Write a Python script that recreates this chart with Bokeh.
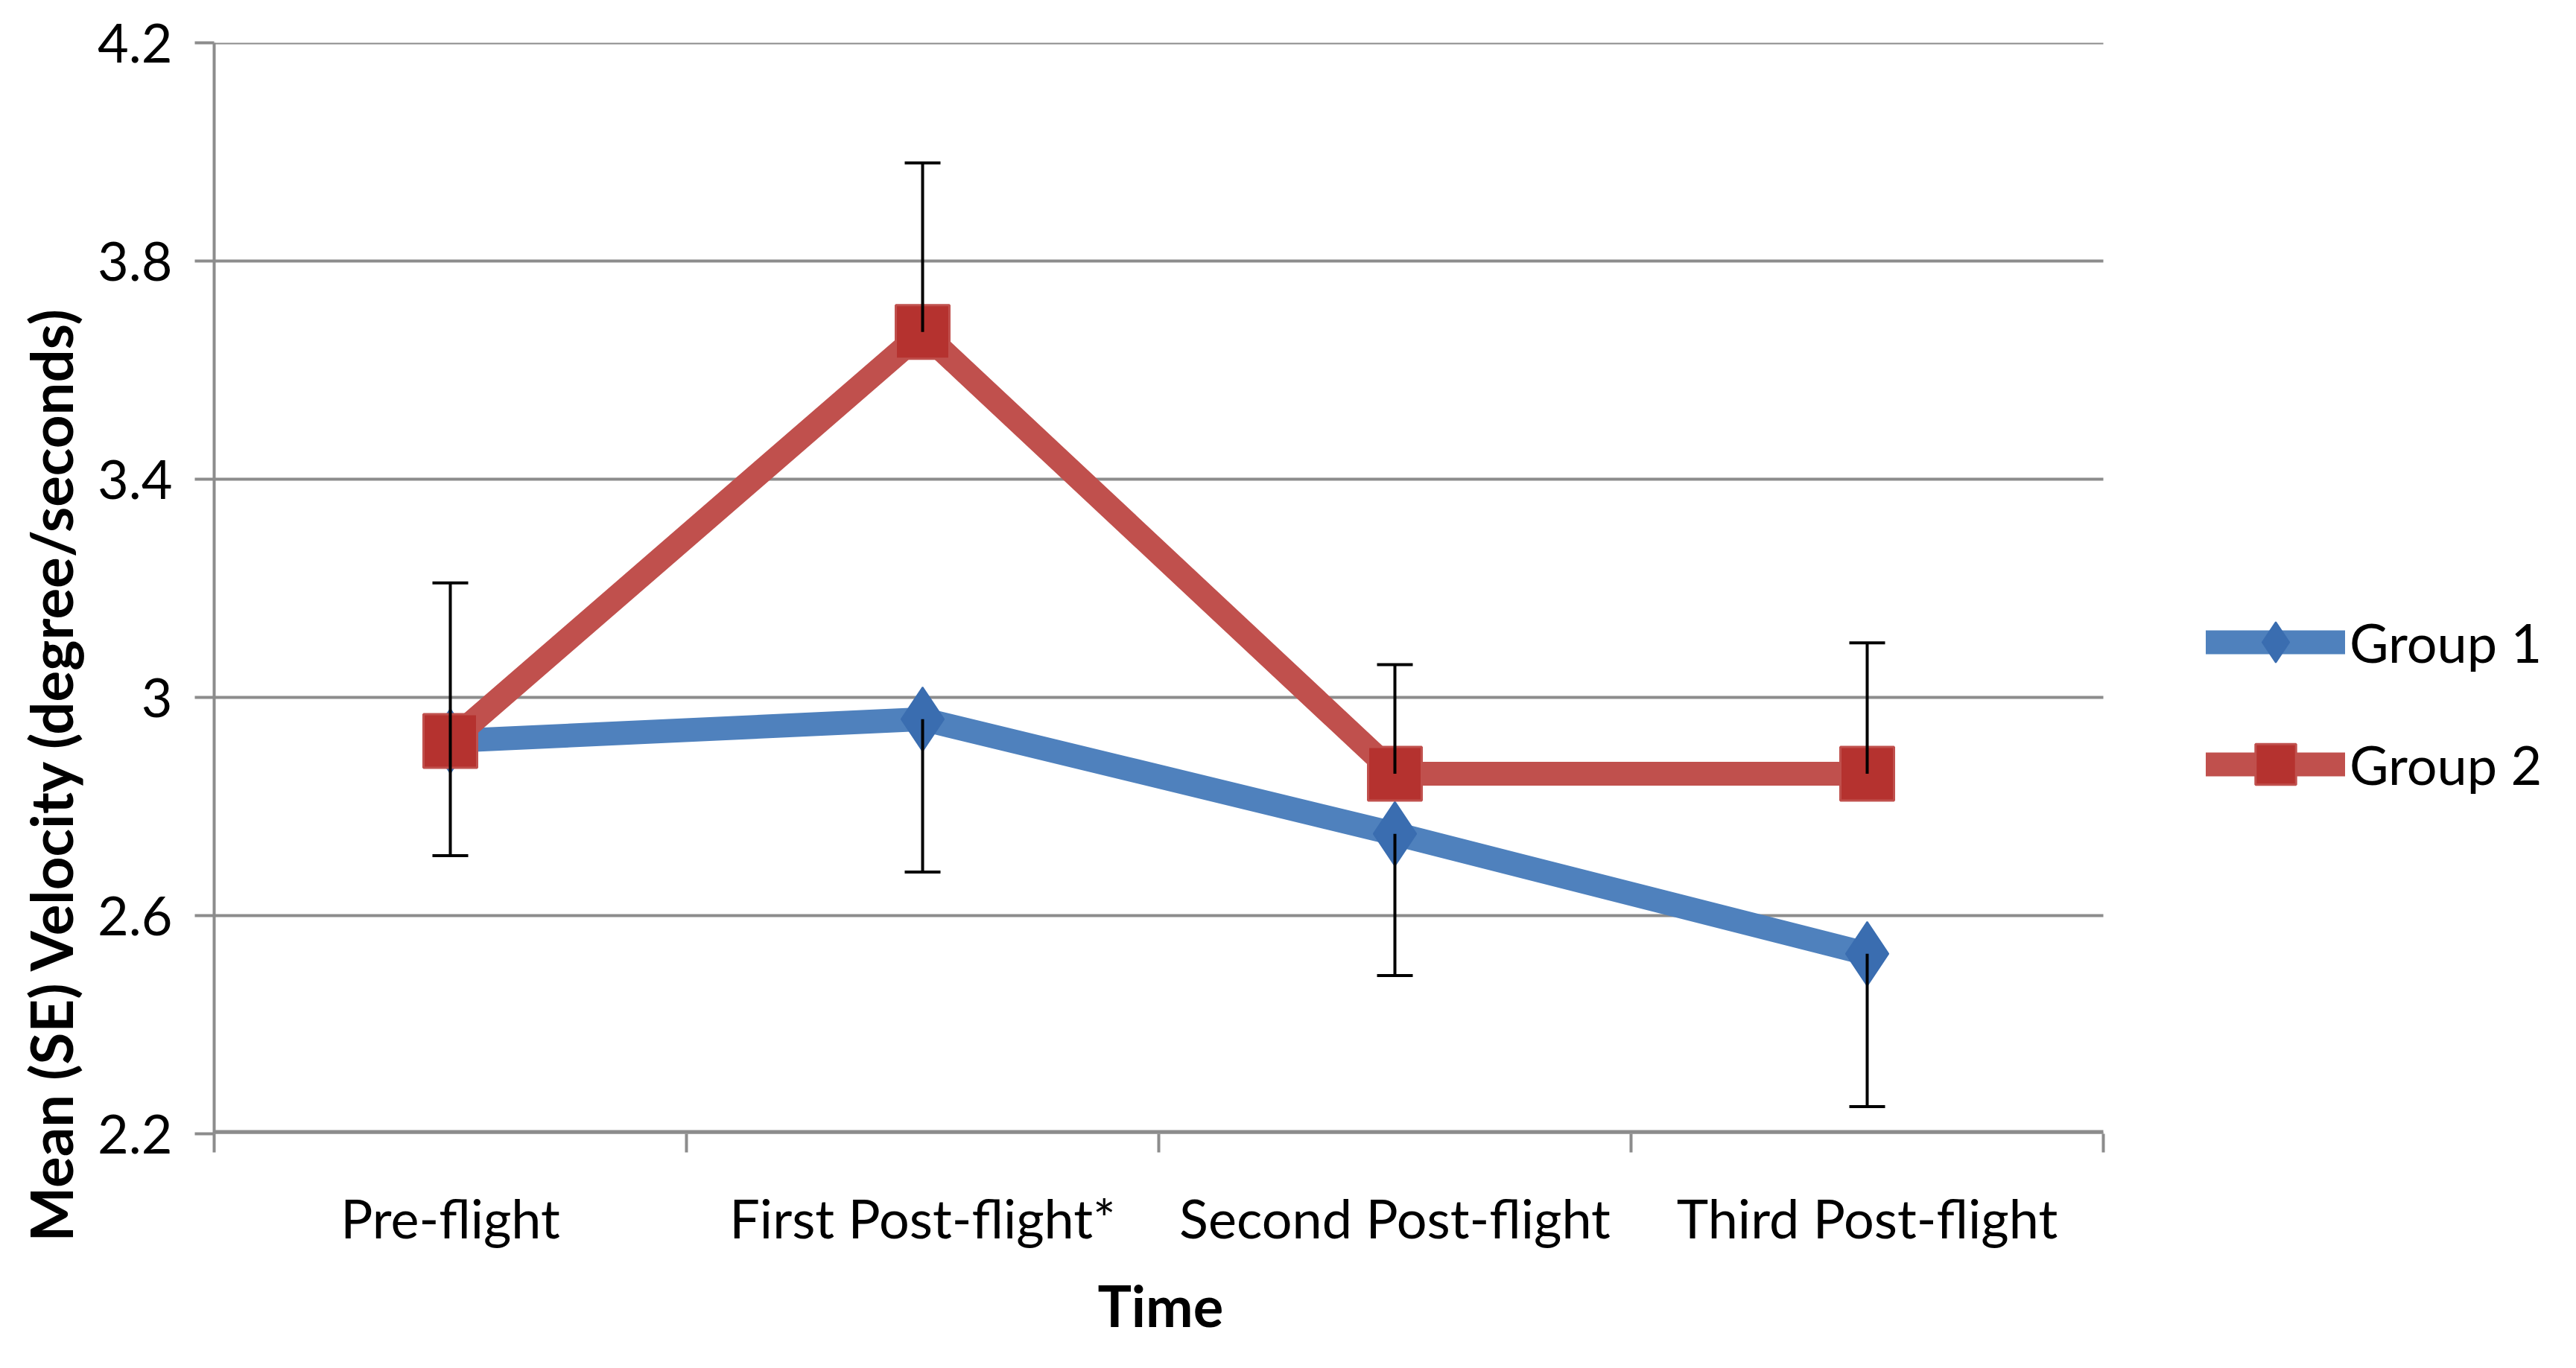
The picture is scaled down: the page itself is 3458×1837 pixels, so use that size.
from bokeh.plotting import figure
from bokeh.models import (Range1d, FixedTicker, Whisker, TeeHead, ColumnDataSource,
                          Legend, LegendItem, Title)
from bokeh.embed import file_html
from bokeh.resources import INLINE

# ---------------- data ----------------
categories = ["Pre-flight", "First Post-flight*", "Second Post-flight", "Third Post-flight"]
group1 = [2.92, 2.96, 2.75, 2.53]
group1_se = [0.21, 0.28, 0.26, 0.28]      # drawn downward
group2 = [2.92, 3.67, 2.86, 2.86]
group2_se = [0.29, 0.31, 0.20, 0.24]      # drawn upward
y_ticks = [2.2, 2.6, 3.0, 3.4, 3.8, 4.2]
y_tick_labels = ["2.2", "2.6", "3", "3.4", "3.8", "4.2"]
series_names = ["Group 1", "Group 2"]
x_title = "Time"
y_title = "Mean (SE) Velocity (degree/seconds)"

# ---------------- styling / layout ----------------
BLUE_LINE = "#4F81BD"
BLUE_MARK = "#3A6DB0"
RED_LINE = "#C0504D"
RED_MARK = "#B5322F"
GRID = "#8C8C8C"
FONT = "Lato"

W, H = 3442, 1821
LEFT, RIGHT, TOP, BOTTOM = 287, 0, 57, 298
DATA_W = 2536                      # pixel width of the category area
frame_w = W - LEFT - RIGHT
n = len(categories)
x_end = n * frame_w / DATA_W       # frame is extended to the right to host the legend

xs = [i + 0.5 for i in range(n)]

p = figure(width=W, height=H, output_backend="svg", toolbar_location=None,
           x_range=Range1d(0, x_end), y_range=Range1d(y_ticks[0], y_ticks[-1]),
           min_border_left=LEFT, min_border_right=RIGHT, min_border_top=TOP,
           min_border_bottom=BOTTOM)
p.outline_line_color = None
p.background_fill_color = "white"
p.border_fill_color = "white"
p.xgrid.visible = False
p.ygrid.visible = False

# horizontal gridlines and bottom axis line, limited to the category area
p.segment(x0=[0] * len(y_ticks), x1=[n] * len(y_ticks), y0=y_ticks, y1=y_ticks,
          line_color=GRID, line_width=4)
p.segment(x0=[0], x1=[n], y0=[y_ticks[0]], y1=[y_ticks[0]], line_color=GRID, line_width=10)

# y axis
ya = p.yaxis[0]
ya.ticker = FixedTicker(ticks=y_ticks, minor_ticks=[])
ya.major_label_overrides = {t: l for t, l in zip(y_ticks, y_tick_labels)}
ya.axis_line_color = GRID
ya.axis_line_width = 4
ya.major_tick_line_color = GRID
ya.major_tick_line_width = 4
ya.major_tick_out = 26
ya.major_tick_in = 0
ya.minor_tick_line_color = None
ya.major_label_standoff = 30
ya.major_label_text_font = FONT
ya.major_label_text_font_size = "72px"
ya.major_label_text_color = "black"

# x axis
xa = p.xaxis[0]
xa.ticker = FixedTicker(ticks=xs, minor_ticks=list(range(n + 1)))
xa.major_label_overrides = {x: c for x, c in zip(xs, categories)}
xa.axis_line_color = None
xa.major_tick_out = 0
xa.major_tick_in = 0
xa.major_tick_line_color = None
xa.minor_tick_out = 25
xa.minor_tick_in = 0
xa.minor_tick_line_color = GRID
xa.minor_tick_line_width = 4
xa.major_label_standoff = 44
xa.major_label_text_font = FONT
xa.major_label_text_font_size = "72px"
xa.major_label_text_color = "black"

# x title, centred under the category area
xt = Title(text=x_title, align="left", offset=1186, standoff=48, text_font=FONT,
           text_font_style="bold", text_font_size="76px", text_color="black")
p.add_layout(xt, "below")

# y title, shifted down like in the original
yt = Title(text=y_title, align="left", offset=-145, standoff=26, text_font=FONT,
           text_font_style="bold", text_font_size="78px", text_color="black")
p.add_layout(yt, "left")

# series lines
r1_line = p.line(xs, group1, line_color=BLUE_LINE, line_width=32, line_join="round", line_cap="round")
r2_line = p.line(xs, group2, line_color=RED_LINE, line_width=32, line_join="round", line_cap="round")

# error bars
src1 = ColumnDataSource(dict(x=xs, lo=[v - e for v, e in zip(group1, group1_se)], hi=group1))
src2 = ColumnDataSource(dict(x=xs, lo=group2, hi=[v + e for v, e in zip(group2, group2_se)]))
for src, head_up, head_lo in [(src1, None, TeeHead(size=48, line_width=4, line_color="black")),
                              (src2, TeeHead(size=48, line_width=4, line_color="black"), None)]:
    w = Whisker(source=src, base="x", lower="lo", upper="hi", dimension="height",
                line_color="black", line_width=4, upper_head=head_up, lower_head=head_lo,
                level="glyph")
    p.add_layout(w)

# markers
r1_mark = p.scatter(xs, group1, marker="diamond", size=86, fill_color=BLUE_MARK,
                    line_color=BLUE_MARK, line_width=2)
r2_mark = p.scatter(xs, group2, marker="square", size=72, fill_color=RED_MARK,
                    line_color=RED_LINE, line_width=3)

# legend, inside the extended frame to the right of the category area
legend = Legend(items=[LegendItem(label=series_names[0], renderers=[r1_line, r1_mark]),
                       LegendItem(label=series_names[1], renderers=[r2_line, r2_mark])],
                location=(2674, 428), orientation="vertical",
                glyph_width=187, glyph_height=136, label_height=136, spacing=28,
                label_standoff=6, padding=0, margin=0,
                border_line_color=None, background_fill_alpha=0,
                label_text_font=FONT, label_text_font_size="72px", label_text_color="black",
                label_text_baseline="middle")
p.add_layout(legend, "center")

open("out.html", "w").write(file_html(p, INLINE))
